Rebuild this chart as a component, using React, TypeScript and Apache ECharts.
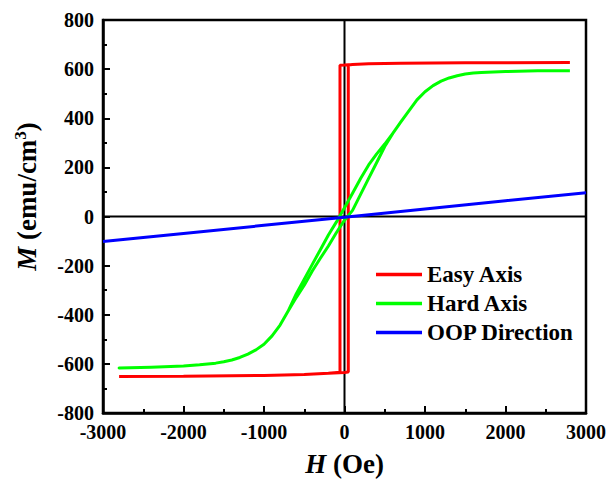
import React, { useEffect, useRef } from "react";
import * as echarts from "echarts";

const seriesNames = ["Easy Axis", "Hard Axis", "OOP Direction"];
const seriesColors = ["#ff0000", "#00ff00", "#0000ff"];

// Easy axis loop: descending branch then ascending branch, [H (Oe), M (emu/cm3)]
const easyAxis: [number, number][] = [
  [2800, 627], [2000, 626], [1500, 626], [700, 624], [300, 622], [100, 619], [0, 617], [-56, 616],
  [-56, -634], [-200, -638], [-500, -643], [-1000, -647], [-2000, -650], [-2800, -651],
  [-2000, -650], [-1000, -647], [-500, -643], [-200, -638], [0, -635], [47, -633],
  [47, 617], [100, 619], [300, 622], [700, 624], [1500, 626], [2000, 626], [2800, 627],
];

// Hard axis loop: descending branch (from +H), then ascending branch (from -H)
const hardDesc: [number, number][] = [
  [2800, 593], [2400, 593], [2000, 590], [1700, 586], [1600, 584], [1500, 580], [1400, 573],
  [1300, 564], [1200, 551], [1100, 533], [1000, 508], [900, 475], [800, 430], [700, 385],
  [600, 338], [500, 295], [400, 255], [300, 210], [200, 155], [100, 95], [0, 36], [-100, -22],
  [-200, -75], [-300, -135], [-400, -195], [-500, -255], [-600, -315], [-700, -385],
  [-800, -442], [-900, -486], [-1000, -520], [-1100, -543], [-1200, -560], [-1300, -574],
  [-1400, -584], [-1500, -591], [-1600, -597], [-1800, -604], [-2000, -609], [-2400, -614],
  [-2800, -617],
];
const hardAsc: [number, number][] = [
  [-2800, -617], [-2400, -614], [-2000, -609], [-1800, -604], [-1600, -597], [-1500, -591],
  [-1400, -584], [-1300, -574], [-1200, -560], [-1100, -543], [-1000, -520], [-900, -486],
  [-800, -442], [-700, -385], [-600, -330], [-500, -280], [-400, -222], [-300, -170],
  [-200, -120], [-100, -65], [0, -15], [100, 25], [200, 90], [300, 155], [400, 220],
  [500, 285], [600, 338], [700, 385], [800, 430], [900, 475], [1000, 508], [1100, 533],
  [1200, 551], [1300, 564], [1400, 573], [1500, 580], [1600, 584], [1700, 586], [2000, 590],
  [2400, 593], [2800, 593],
];

// Out-of-plane direction
const oopDirection: [number, number][] = [
  [-3000, -102], [-2000, -69], [-1000, -36], [0, -3], [1000, 31], [2000, 64], [3000, 97],
];

const xTicks = { min: -3000, max: 3000, interval: 1000 };
const yTicks = { min: -800, max: 800, interval: 200 };

const FONT = "Liberation Serif";

export default function App() {
  const ref = useRef<HTMLDivElement>(null);
  useEffect(() => {
    if (!ref.current) return;
    const chart = echarts.init(ref.current, null, { renderer: "svg" });
    const nameRich = {
      i: { fontFamily: FONT, fontWeight: "bold", fontStyle: "italic", fontSize: 27, color: "#000" },
      sup: { fontFamily: FONT, fontWeight: "bold", fontSize: 17, color: "#000", padding: [0, 0, 13, 0] },
    };
    const axisCommon = {
      axisLine: { show: true, onZero: false, lineStyle: { color: "#000", width: 2.5 } },
      axisTick: { show: true, inside: true, length: 7, lineStyle: { color: "#000", width: 2 } },
      minorTick: { show: true, splitNumber: 2, length: 4, lineStyle: { color: "#000", width: 2 } },
      splitLine: { show: false },
      minorSplitLine: { show: false },
      axisLabel: {
        color: "#000",
        fontFamily: FONT,
        fontWeight: "bold",
        fontSize: 20,
        margin: 9,
        formatter: (v: number) => String(v),
      },
      nameLocation: "middle",
    };
    chart.setOption({
      animation: false,
      backgroundColor: "#fff",
      grid: {
        left: 103,
        right: 22,
        top: 20,
        bottom: 67,
        show: true,
        borderColor: "#000",
        borderWidth: 2.5,
        backgroundColor: "transparent",
        outerBoundsMode: "none",
      },
      legend: {
        data: seriesNames,
        orient: "vertical",
        left: 371,
        top: 258,
        icon: "rect",
        itemWidth: 46,
        itemHeight: 3.5,
        itemGap: 6,
        textStyle: { color: "#000", fontFamily: FONT, fontWeight: "bold", fontSize: 23 },
      },
      xAxis: {
        type: "value",
        ...xTicks,
        ...axisCommon,
        name: "{i|H} (Oe)",
        nameGap: 37,
        nameTextStyle: {
          color: "#000",
          fontFamily: FONT,
          fontWeight: "bold",
          fontSize: 27,
          rich: nameRich,
        },
      },
      yAxis: {
        type: "value",
        ...yTicks,
        ...axisCommon,
        name: "{i|M} (emu/cm{sup|3})",
        nameGap: 61,
        nameTextStyle: {
          color: "#000",
          fontFamily: FONT,
          fontWeight: "bold",
          fontSize: 27,
          rich: nameRich,
          padding: [0, 0, 0, 40],
        },
      },
      series: [
        {
          name: "zeroV",
          type: "line",
          data: [[0, yTicks.min], [0, yTicks.max]],
          symbol: "none",
          silent: true,
          z: 1,
          lineStyle: { color: "#000", width: 2 },
        },
        {
          name: "zeroH",
          type: "line",
          data: [[xTicks.min, 0], [xTicks.max, 0]],
          symbol: "none",
          silent: true,
          z: 1,
          lineStyle: { color: "#000", width: 2 },
        },
        {
          name: seriesNames[0],
          type: "line",
          data: easyAxis,
          symbol: "none",
          color: seriesColors[0],
          lineStyle: { color: seriesColors[0], width: 3 },
        },
        {
          name: seriesNames[1],
          type: "line",
          data: [...hardDesc, ...hardAsc],
          symbol: "none",
          color: seriesColors[1],
          lineStyle: { color: seriesColors[1], width: 3, join: "round" },
        },
        {
          name: seriesNames[2],
          type: "line",
          data: oopDirection,
          symbol: "none",
          color: seriesColors[2],
          lineStyle: { color: seriesColors[2], width: 3 },
        },
      ],
    });
    return () => chart.dispose();
  }, []);
  return (
    <div
      ref={ref}
      style={{ position: "fixed", left: 0, top: 0, width: 608, height: 480, background: "#fff" }}
    />
  );
}
